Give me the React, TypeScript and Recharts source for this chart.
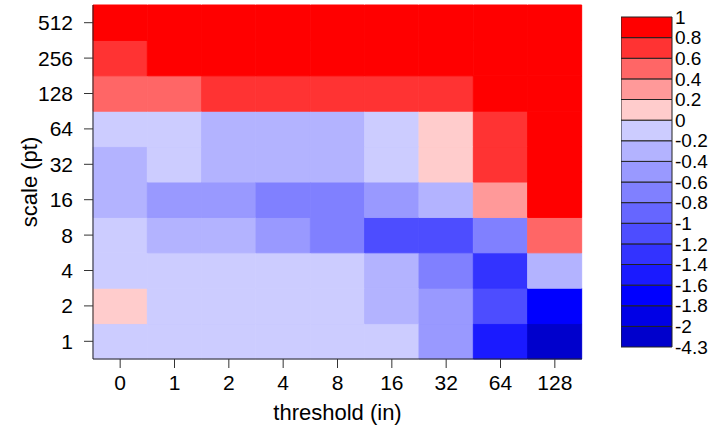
import React from 'react';
import { BarChart, Bar, Cell, XAxis, YAxis, ReferenceArea } from 'recharts';

const thresholds = ['0', '1', '2', '4', '8', '16', '32', '64', '128'];
const scales = ['1', '2', '4', '8', '16', '32', '64', '128', '256', '512'];

// one array per scale (pt), values across the thresholds
const scale1 = [-0.1, -0.12, -0.08, -0.1, -0.11, -0.14, -0.52, -1.5, -2.6];
const scale2 = [0.08, -0.1, -0.09, -0.12, -0.1, -0.3, -0.5, -1.1, -1.7];
const scale4 = [-0.1, -0.09, -0.11, -0.1, -0.12, -0.32, -0.72, -1.3, -0.3];
const scale8 = [-0.15, -0.3, -0.32, -0.5, -0.7, -1.1, -1.12, -0.7, 0.5];
const scale16 = [-0.3, -0.5, -0.52, -0.7, -0.72, -0.5, -0.3, 0.3, 0.95];
const scale32 = [-0.3, -0.12, -0.3, -0.32, -0.3, -0.1, 0.1, 0.7, 0.92];
const scale64 = [-0.1, -0.12, -0.3, -0.32, -0.3, -0.12, 0.12, 0.7, 0.9];
const scale128 = [0.5, 0.52, 0.7, 0.7, 0.72, 0.7, 0.7, 0.9, 0.92];
const scale256 = [0.7, 0.9, 0.92, 0.9, 0.9, 0.92, 0.9, 0.95, 0.95];
const scale512 = [0.95, 0.95, 0.95, 0.95, 0.95, 0.95, 0.95, 0.97, 0.98];

const grid = [scale1, scale2, scale4, scale8, scale16, scale32, scale64, scale128, scale256, scale512];

const levelBreaks = [-4.3, -2, -1.8, -1.6, -1.4, -1.2, -1, -0.8, -0.6, -0.4, -0.2, 0, 0.2, 0.4, 0.6, 0.8, 1];
const levelColors = [
  '#0000CC', '#0000E6', '#0000FF', '#1A1AFF', '#3333FF', '#4D4DFF', '#6666FF', '#8080FF',
  '#9999FF', '#B3B3FF', '#CCCCFF', '#FFCCCC', '#FF9999', '#FF6666', '#FF3333', '#FF0000',
];

const colorFor = (v: number) => {
  for (let i = 0; i < levelColors.length; i++) {
    if (v < levelBreaks[i + 1]) return levelColors[i];
  }
  return levelColors[levelColors.length - 1];
};

// each threshold column is a stack of unit-height cells, one per scale
const cellData = thresholds.map((t) => {
  const row: Record<string, string | number> = { t };
  scales.forEach((_, r) => { row['s' + r] = 1; });
  return row;
});
const yTicks = scales.map((_, i) => i + 0.5);

const keyRow: Record<string, string | number> = { k: 'key' };
levelColors.forEach((_, i) => { keyRow['l' + i] = 1; });
const keyData = [keyRow];
const keyTicks = levelBreaks.map((_, i) => i);

const font = '"Liberation Sans", Arial, sans-serif';

export default function App() {
  return (
    <div style={{ position: 'absolute', left: 0, top: 0, width: 715, height: 435, background: '#fff', fontFamily: font }}>
      <div style={{ position: 'absolute', left: 0, top: 0 }}>
        <BarChart width={600} height={435} data={cellData} margin={{ top: 5, right: 18, bottom: 0, left: 0 }} barCategoryGap={0} barGap={0}>
          <XAxis
            dataKey="t"
            height={76}
            interval={0}
            tickSize={9}
            tickMargin={7}
            tick={{ fill: '#000', fontSize: 21 }}
            tickLine={{ stroke: '#333' }}
            axisLine={{ stroke: '#222' }}
            label={{ value: 'threshold (in)', position: 'insideBottom', offset: 15, fill: '#000', fontSize: 22 }}
          />
          <YAxis
            type="number"
            domain={[0, scales.length]}
            ticks={yTicks}
            interval={0}
            tickFormatter={(v: number) => scales[Math.floor(v)]}
            width={93}
            tickSize={9}
            tickMargin={11}
            tick={{ fill: '#000', fontSize: 21 }}
            tickLine={{ stroke: '#333' }}
            axisLine={{ stroke: '#222' }}
            label={{ value: 'scale (pt)', angle: -90, position: 'insideLeft', offset: 29, fill: '#000', fontSize: 22, style: { textAnchor: 'middle' } }}
          />
          {scales.map((s, r) => (
            <Bar key={s} dataKey={'s' + r} stackId="grid" isAnimationActive={false}>
              {thresholds.map((t, c) => (
                <Cell key={t} fill={colorFor(grid[r][c])} stroke={colorFor(grid[r][c])} strokeWidth={1} />
              ))}
            </Bar>
          ))}
          <ReferenceArea x1="0" x2="128" y1={0} y2={scales.length} fill="none" stroke="#222" strokeWidth={1} />
        </BarChart>
      </div>
      <div style={{ position: 'absolute', left: 621, top: 0 }}>
        <BarChart width={94} height={435} data={keyData} margin={{ top: 17, right: 0, bottom: 88, left: 0 }} barCategoryGap={0} barGap={0}>
          <XAxis dataKey="k" hide />
          <YAxis
            orientation="right"
            type="number"
            domain={[0, levelColors.length]}
            ticks={keyTicks}
            interval={0}
            tickFormatter={(v: number) => String(levelBreaks[v])}
            width={43}
            tickSize={0}
            tickMargin={3}
            tickLine={false}
            axisLine={false}
            tick={{ fill: '#000', fontSize: 19 }}
          />
          {levelColors.map((c, i) => (
            <Bar key={c} dataKey={'l' + i} stackId="key" fill={c} stroke="#222" strokeWidth={1} isAnimationActive={false} />
          ))}
        </BarChart>
      </div>
    </div>
  );
}
